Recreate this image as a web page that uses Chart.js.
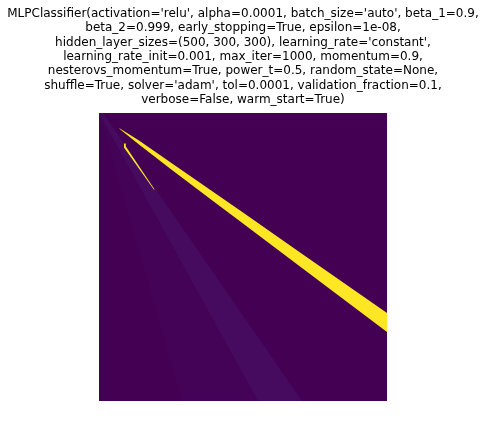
<!DOCTYPE html>
<html lang="en">
<head>
<meta charset="UTF-8">
<title>MLPClassifier decision surface</title>
<script src="https://cdn.jsdelivr.net/npm/chart.js"></script>
<style>
  body, html { margin: 0; padding: 0; background: #fff; }
  .wrap { position: relative; width: 486px; height: 425px; }
  canvas { display: block; position: absolute; left: 0; top: 0; }
  #title {
    position: absolute;
    left: 0;
    top: 5.8px;
    width: 486px;
    text-align: center;
    font-family: 'DejaVu Sans', sans-serif;
    font-size: 12px;
    line-height: 14.4px;
    color: #000;
    white-space: pre;
  }
</style>
</head>
<body>
<div class="wrap">
  <canvas id="surface" width="486" height="425"></canvas>
  <div id="title"></div>
</div>
<script>
  // the decision grid is 288 x 288 cells; each region is traced as an outline in cell units
  const titleLines = [
    "MLPClassifier(activation='relu', alpha=0.0001, batch_size='auto', beta_1=0.9,",
    "beta_2=0.999, early_stopping=True, epsilon=1e-08,",
    "hidden_layer_sizes=(500, 300, 300), learning_rate='constant',",
    "learning_rate_init=0.001, max_iter=1000, momentum=0.9,",
    "nesterovs_momentum=True, power_t=0.5, random_state=None,",
    "shuffle=True, solver='adam', tol=0.0001, validation_fraction=0.1,",
    "verbose=False, warm_start=True)"
  ];

  const gridX = [0, 288, 288, 0];
  const gridY = [0, 0, 288, 288];

  const wedgeX = [0, 159, 83];
  const wedgeY = [0, 288, 288];

  const ridgeX = [0, 4, 203, 159];
  const ridgeY = [0, 0, 288, 288];

  // main positive band: upper edge left to right, then lower edge back
  const bandX = [20, 40, 71, 110, 144, 200, 288, 288, 200, 144, 110, 71, 40, 21];
  const bandY = [15, 27.6, 48.9, 75.9, 99.6, 138.7, 200, 219, 152.7, 110.6, 84.9, 55.4, 31.6, 16.2];

  const sliverX = [25, 26.8, 26.8, 55.6, 54.8, 25];
  const sliverY = [30.6, 30.6, 33.5, 76.4, 76.4, 34.5];

  document.getElementById('title').textContent = titleLines.join('\n');

  function outline(xs, ys) {
    return xs.map((x, i) => ({ x: x, y: ys[i] }));
  }

  function region(xs, ys, color, order) {
    return {
      data: outline(xs, ys),
      showLine: true,
      fill: 'shape',
      backgroundColor: color,
      borderWidth: 0,
      pointRadius: 0,
      order: order
    };
  }

  new Chart(document.getElementById('surface').getContext('2d'), {
    type: 'scatter',
    data: {
      datasets: [
        region(gridX, gridY, '#440154', 5),
        region(wedgeX, wedgeY, '#440356', 4),
        region(ridgeX, ridgeY, '#460b5e', 3),
        region(bandX, bandY, '#fde725', 2),
        region(sliverX, sliverY, '#fde725', 1)
      ]
    },
    options: {
      responsive: false,
      animation: false,
      events: [],
      layout: {
        padding: { left: 99, right: 99, top: 113, bottom: 24 }
      },
      plugins: {
        legend: { display: false },
        tooltip: { enabled: false },
        title: { display: false }
      },
      scales: {
        x: { type: 'linear', min: 0, max: 288, display: false },
        y: { type: 'linear', min: 0, max: 288, reverse: true, display: false }
      }
    }
  });
</script>
</body>
</html>
